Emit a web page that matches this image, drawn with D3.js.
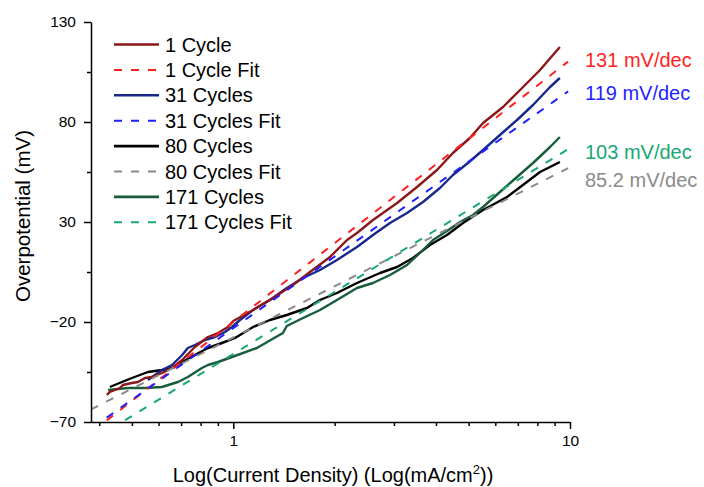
<!DOCTYPE html>
<html>

<head>
    <meta charset="utf-8">
    <script src="https://d3js.org/d3.v7.min.js"></script>
    <style>
        body {
            margin: 0;
            background: #fff;
            overflow: hidden;
        }

        svg text {
            font-family: "Liberation Sans", Arial, sans-serif;
            fill: #000;
        }

        .axis path,
        .axis line {
            stroke: #000;
            stroke-width: 1.5px;
        }

        .axis text {
            font-size: 15.5px;
        }
    </style>
</head>

<body>
    <div id="chart"></div>
    <script>
        // data
        var xTickMajor = [1, 10];
        var xTickMinor = [0.4, 0.5, 0.6, 0.7, 0.8, 0.9, 2, 3, 4, 5, 6, 7, 8, 9];
        var yTickMajor = [-70, -20, 30, 80, 130];
        var yTickMinor = [-45, 5, 55, 105];

        var legendNames = ["1 Cycle", "1 Cycle Fit", "31 Cycles", "31 Cycles Fit",
            "80 Cycles", "80 Cycles Fit", "171 Cycles", "171 Cycles Fit"];

        var cycle1X = [0.421, 0.430, 0.461, 0.470, 0.500, 0.521, 0.547, 0.574, 0.614, 0.658, 0.705, 0.769, 0.841,
            0.901, 0.964, 1.0, 1.145, 1.312, 1.503, 1.690, 1.937, 2.177, 2.330, 2.600, 3.065, 3.513, 4.027,
            4.490, 5.043, 5.518, 6.327, 7.108, 8.147, 9.33];
        var cycle1Y = [-56.5, -54.9, -53, -51.5, -50.5, -50, -48, -47.5, -45.5, -43, -39, -32.5, -27.5,
            -25.5, -22.5, -19.5, -14, -8, -1.5, 5, 12.5, 21, 24.5, 31, 39.5, 47.5, 56,
            64.5, 72, 79.5, 87.5, 96, 106, 117.5];

        var cycle31X = [0.558, 0.614, 0.658, 0.705, 0.733, 0.769, 0.824, 0.883, 0.945, 0.991, 1.047, 1.145, 1.285,
            1.442, 1.611, 1.809, 2.032, 2.330, 2.600, 2.920, 3.281, 3.659, 4.109, 4.490, 4.977, 5.518,
            6.193, 6.961, 7.765, 8.726, 9.33];
        var cycle31Y = [-49, -44, -41.5, -36.5, -33, -31.5, -29, -27.5, -25, -22.5, -19, -14, -9,
            -3, 2, 6, 11, 17.5, 23.5, 29.5, 34.5, 40, 47, 53.5, 59.5, 66,
            73.5, 81, 88.5, 97.5, 102];

        var cycle80X = [0.430, 0.467, 0.500, 0.558, 0.614, 0.658, 0.705, 0.769, 0.841, 0.925, 1.012, 1.145, 1.285,
            1.442, 1.655, 1.809, 2.032, 2.330, 2.728, 3.065, 3.417, 3.837, 4.312, 4.810, 5.518, 6.501,
            7.447, 8.147, 9.33];
        var cycle80Y = [-52.5, -50, -48, -45, -44, -43, -40, -36.5, -33, -30.5, -28, -22.5, -19,
            -16.5, -13, -9, -5.5, -0.5, 4.5, 7.5, 12, 18.5, 23.5, 29.5, 36, 42.5,
            50, 55, 60];

        var cycle171X = [0.425, 0.487, 0.547, 0.614, 0.685, 0.733, 0.807, 0.841, 0.901, 0.991, 1.175, 1.404, 1.442,
            1.611, 1.809, 2.032, 2.330, 2.600, 2.920, 3.281, 3.659, 3.918, 4.312, 4.714, 5.152, 5.518,
            6.193, 6.961, 7.765, 8.726, 9.33];
        var cycle171Y = [-54, -53, -53, -52.5, -50, -47.5, -43, -41.5, -40, -37.5, -33, -25.5, -22,
            -18, -14, -9, -3, -0.5, 3.5, 8.5, 16, 21, 25.5, 30, 33.5, 37.5,
            45, 52.5, 59.5, 67.5, 72.5];

        // fit lines: end points
        var fit1X = [0.421, 9.87], fit1Y = [-69.2, 110.2];
        var fit31X = [0.421, 9.87], fit31Y = [-67.8, 95.3];
        var fit80X = [0.378, 9.87], fit80Y = [-63.7, 56.9];
        var fit171X = [0.477, 9.87], fit171Y = [-69.1, 66.4];

        var slopeLabels = ["131 mV/dec", "119 mV/dec", "103 mV/dec", "85.2 mV/dec"];

        var colors = {
            c1: "#8b1719", f1: "#ff1f1f",
            c31: "#17288c", f31: "#1f1fff",
            c80: "#000000", f80: "#8a8a8a",
            c171: "#185c3a", f171: "#17a873"
        };

        var width = 704;
        var height = 487;

        var x = d3.scaleLog().domain([0.378, 10]).range([91, 570]);
        var y = d3.scaleLinear().domain([-70, 130]).range([422, 22]);

        var svg = d3.select("#chart").append("svg")
            .attr("width", width)
            .attr("height", height);

        svg.append("defs").append("clipPath").attr("id", "plot")
            .append("rect")
            .attr("x", 91).attr("y", 22)
            .attr("width", 480).attr("height", 400);

        function zipPts(xs, ys) {
            return xs.map((v, i) => [v, ys[i]]);
        }

        var series = [
            { pts: zipPts(fit1X, fit1Y), color: colors.f1, dash: true },
            { pts: zipPts(fit31X, fit31Y), color: colors.f31, dash: true },
            { pts: zipPts(fit80X, fit80Y), color: colors.f80, dash: true },
            { pts: zipPts(fit171X, fit171Y), color: colors.f171, dash: true },
            { pts: zipPts(cycle80X, cycle80Y), color: colors.c80, dash: false },
            { pts: zipPts(cycle171X, cycle171Y), color: colors.c171, dash: false },
            { pts: zipPts(cycle31X, cycle31Y), color: colors.c31, dash: false },
            { pts: zipPts(cycle1X, cycle1Y), color: colors.c1, dash: false }
        ];

        var line = d3.line()
            .x(d => x(d[0]))
            .y(d => y(d[1]));

        var plot = svg.append("g").attr("clip-path", "url(#plot)");

        // solid lines first, dashed fits on top
        var order = series.filter(s => !s.dash).concat(series.filter(s => s.dash));
        plot.selectAll("path")
            .data(order)
            .enter().append("path")
            .attr("d", d => line(d.pts))
            .attr("fill", "none")
            .attr("stroke", d => d.color)
            .attr("stroke-width", d => d.dash ? 2 : 2.4)
            .attr("stroke-linejoin", "round")
            .attr("stroke-dasharray", d => d.dash ? "8,9" : null);

        // axes
        var xAxisG = svg.append("g").attr("class", "axis").attr("transform", "translate(0,422)");
        xAxisG.call(d3.axisBottom(x).tickValues(xTickMajor).tickFormat(d3.format("d"))
            .tickSize(7).tickPadding(6).tickSizeOuter(0));
        xAxisG.append("g").call(d3.axisBottom(x).tickValues(xTickMinor).tickFormat("")
            .tickSize(4).tickSizeOuter(0))
            .select(".domain").remove();
        xAxisG.select(".domain").attr("d", "M91,0.5H570");

        var yAxisG = svg.append("g").attr("class", "axis").attr("transform", "translate(91,0)");
        yAxisG.call(d3.axisLeft(y).tickValues(yTickMajor)
            .tickSize(7).tickPadding(8).tickSizeOuter(0));
        yAxisG.append("g").call(d3.axisLeft(y).tickValues(yTickMinor).tickFormat("")
            .tickSize(4).tickSizeOuter(0))
            .select(".domain").remove();

        svg.selectAll(".axis text")
            .attr("font-family", "Liberation Sans, Arial, sans-serif")
            .attr("font-size", "15.5px")
            .attr("fill", "#000");

        // axis titles
        var xt = svg.append("text")
            .attr("x", 333)
            .attr("y", 482)
            .attr("text-anchor", "middle")
            .style("font-size", "20px");
        xt.append("tspan").text("Log(Current Density) (Log(mA/cm");
        xt.append("tspan").attr("dy", -8).style("font-size", "13px").text("2");
        xt.append("tspan").attr("dy", 8).text("))");

        svg.append("text")
            .attr("transform", "translate(30,216) rotate(-90)")
            .attr("text-anchor", "middle")
            .style("font-size", "20.5px")
            .text("Overpotential (mV)");

        // legend
        var legendColors = [colors.c1, colors.f1, colors.c31, colors.f31, colors.c80, colors.f80, colors.c171, colors.f171];
        var legend = svg.append("g").selectAll("g")
            .data(legendNames)
            .enter().append("g")
            .attr("transform", (d, i) => `translate(114,${44.5 + i * 25.4})`);

        legend.append("line")
            .attr("x1", 0).attr("x2", 45)
            .attr("stroke", (d, i) => legendColors[i])
            .attr("stroke-width", (d, i) => i % 2 ? 2 : 2.6)
            .attr("stroke-dasharray", (d, i) => i % 2 ? "8,9" : null);

        legend.append("text")
            .attr("x", 51)
            .attr("y", 7)
            .style("font-size", "20px")
            .text(d => d);

        // slope labels
        var slopeColors = [colors.f1, colors.f31, colors.f171, colors.f80];
        var slopeY = [67, 100, 159, 187];
        svg.selectAll(".slope")
            .data(slopeLabels)
            .enter().append("text")
            .attr("class", "slope")
            .attr("x", 585)
            .attr("y", (d, i) => slopeY[i])
            .style("font-size", "20px")
            .style("fill", (d, i) => slopeColors[i])
            .text(d => d);
    </script>
</body>

</html>
